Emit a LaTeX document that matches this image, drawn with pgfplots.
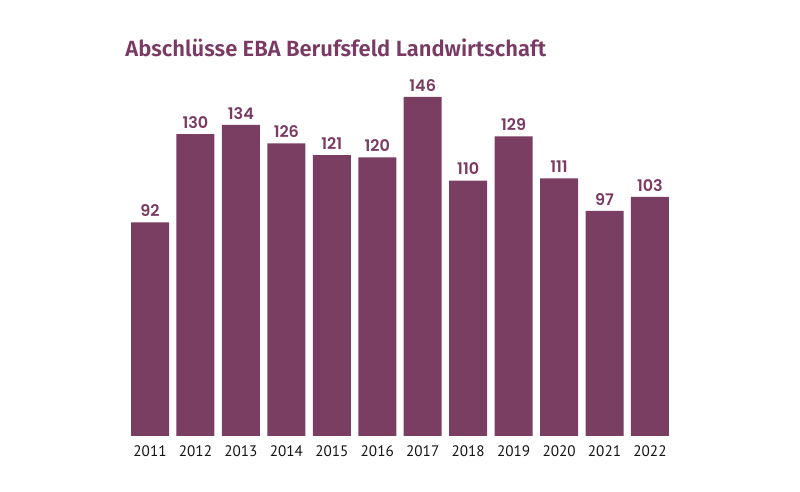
\documentclass[border=0pt]{standalone}
\usepackage{fontspec}
\usepackage{pgfplots}
\pgfplotsset{compat=1.18}
\setmainfont{Fira Sans}
\newfontfamily\titlefont{Fira Sans}[UprightFont=* SemiBold]
\newfontfamily\valfont{Poppins}[UprightFont=* SemiBold]
\newfontfamily\tickfont{PT Sans}
\definecolor{barviolet}{HTML}{7A3E62}
\definecolor{titleviolet}{HTML}{7A3A63}
\definecolor{ticktext}{HTML}{141414}
\begin{document}
\begin{tikzpicture}
\path[use as bounding box] (0,0) rectangle (400pt,246pt);
\node[anchor=base west, inner sep=0pt, text=titleviolet,
      font=\titlefont\fontsize{11pt}{12pt}\selectfont]
  at (62.5pt,217.5pt) {Abschlüsse EBA Berufsfeld Landwirtschaft};
\begin{axis}[
  at={(63.65pt,28pt)}, anchor=south west,
  scale only axis,
  width=272.7pt, height=169.5pt,
  xmin=-0.5, xmax=11.5,
  ymin=0, ymax=146,
  axis line style={draw=none},
  ytick=\empty,
  xtick=data,
  xticklabels={2011,2012,2013,2014,2015,2016,2017,2018,2019,2020,2021,2022},
  major tick length=0pt,
  xticklabel style={font=\tickfont\fontsize{7.6pt}{8pt}\selectfont, text=ticktext,
                    inner sep=0pt, anchor=north, yshift=-4.8pt},
  /pgf/number format/assume math mode=true,
  clip=false,
]
\addplot[ybar, bar width=19pt, fill=barviolet, draw=none,
  nodes near coords,
  every node near coord/.append style={font=\valfont\fontsize{8pt}{8pt}\selectfont,
        text=titleviolet, inner sep=0pt, anchor=base, yshift=2.8pt},
] coordinates {
  (0,92) (1,130) (2,134) (3,126) (4,121) (5,120)
  (6,146) (7,110) (8,129) (9,111) (10,97) (11,103)
};
\end{axis}
\end{tikzpicture}
\end{document}
